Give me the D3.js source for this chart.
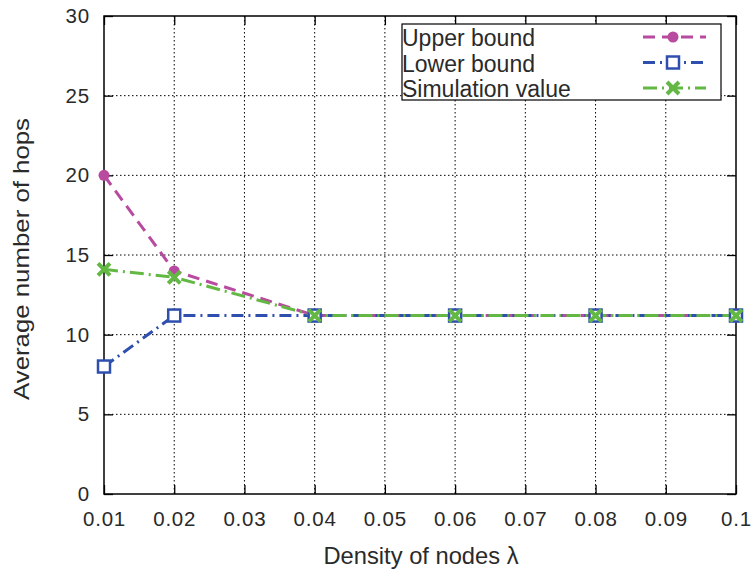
<!DOCTYPE html>
<html><head><meta charset="utf-8">
<script src="https://cdn.jsdelivr.net/npm/d3@7"></script>
<style>body{margin:0;background:#fff}text{font-family:"Liberation Sans",Arial,sans-serif;fill:#2a2a2a}</style>
</head><body>
<svg id="c" width="753" height="575"></svg>
<script>
const xVals = [0.01, 0.02, 0.04, 0.06, 0.08, 0.1];
const upperBound = [20, 14, 11.2, 11.2, 11.2, 11.2];
const lowerBound = [8, 11.2, 11.2, 11.2, 11.2, 11.2];
const simValue = [14.1, 13.6, 11.2, 11.2, 11.2, 11.2];
const xTicks = [0.01,0.02,0.03,0.04,0.05,0.06,0.07,0.08,0.09,0.1];
const xTickLabels = ["0.01","0.02","0.03","0.04","0.05","0.06","0.07","0.08","0.09","0.1"];
const yTicks = [0,5,10,15,20,25,30];
const seriesNames = ["Upper bound","Lower bound","Simulation value"];

const svg = d3.select("#c");
const L=104,R=736,T=16,B=494;
const x = d3.scaleLinear().domain([0.01,0.1]).range([L,R]);
const y = d3.scaleLinear().domain([0,30]).range([B,T]);

// grid
const g = svg.append("g");
xTicks.slice(1,-1).forEach(v=>{
  g.append("line").attr("x1",x(v)).attr("x2",x(v)).attr("y1",T).attr("y2",B)
   .attr("stroke","#000").attr("stroke-width",1).attr("stroke-dasharray","1.5,2.5");
});
yTicks.slice(1,-1).forEach(v=>{
  g.append("line").attr("x1",L).attr("x2",R).attr("y1",y(v)).attr("y2",y(v))
   .attr("stroke","#000").attr("stroke-width",1).attr("stroke-dasharray","1.5,2.5");
});

// axes
const xa = svg.append("g").attr("transform",`translate(0,${B})`)
  .call(d3.axisBottom(x).tickValues(xTicks).tickFormat((d,i)=>xTickLabels[i]).tickSizeInner(-9).tickSizeOuter(0).tickPadding(17));
const xt = svg.append("g").attr("transform",`translate(0,${T})`)
  .call(d3.axisTop(x).tickValues(xTicks).tickFormat("").tickSizeInner(-9).tickSizeOuter(0));
const ya = svg.append("g").attr("transform",`translate(${L},0)`)
  .call(d3.axisLeft(y).tickValues(yTicks).tickSizeInner(-9).tickSizeOuter(0).tickPadding(14));
const yr = svg.append("g").attr("transform",`translate(${R},0)`)
  .call(d3.axisRight(y).tickValues(yTicks).tickFormat("").tickSizeInner(-9).tickSizeOuter(0));
[xa,xt,ya,yr].forEach(a=>{a.select(".domain").remove();a.selectAll("line").attr("stroke","#000").attr("stroke-width",1.3);});
xa.selectAll("text").style("font-size","20.5px").style("letter-spacing","0.8px").attr("fill","#2a2a2a");
ya.selectAll("text").style("font-size","20.5px").style("letter-spacing","0.8px").attr("fill","#2a2a2a");
svg.append("rect").attr("x",L).attr("y",T).attr("width",R-L).attr("height",B-T)
  .attr("fill","none").attr("stroke","#000").attr("stroke-width",1.5);

// labels
svg.append("text").attr("x",421).attr("y",564).attr("text-anchor","middle").style("font-size","24px")
  .attr("textLength",195).attr("lengthAdjust","spacingAndGlyphs").text("Density of nodes λ");
svg.append("text").attr("transform",`translate(29,259) rotate(-90)`).attr("text-anchor","middle").style("font-size","22px")
  .attr("textLength",282).attr("lengthAdjust","spacingAndGlyphs").text("Average number of hops");

const colors = ["#b84aa0","#2e4fae","#63b844"];
const dashes = ["12,7","12,5,2,5","14,5,2,5"];
const data = [upperBound, lowerBound, simValue];
const line = d3.line().x((d,i)=>x(xVals[i])).y(d=>y(d));

function marker(sel, k, cx, cy){
  if(k===0){
    sel.append("circle").attr("cx",cx).attr("cy",cy).attr("r",5.5).attr("fill",colors[0]);
  } else if(k===1){
    sel.append("rect").attr("x",cx-6).attr("y",cy-6).attr("width",12).attr("height",12)
      .attr("fill","#fff").attr("stroke",colors[1]).attr("stroke-width",2.5);
  } else {
    const s=6;
    sel.append("path").attr("d",`M${cx-s},${cy-s}L${cx+s},${cy+s}M${cx-s},${cy+s}L${cx+s},${cy-s}`)
      .attr("stroke",colors[2]).attr("stroke-width",4);
  }
}

data.forEach((d,k)=>{
  svg.append("path").datum(d).attr("d",line).attr("fill","none")
    .attr("stroke",colors[k]).attr("stroke-width",3).attr("stroke-dasharray",dashes[k]);
});
data.forEach((d,k)=>{
  const mg = svg.append("g");
  d.forEach((v,i)=>marker(mg,k,x(xVals[i]),y(v)));
});

// legend
const lg = svg.append("g");
lg.append("rect").attr("x",402).attr("y",24).attr("width",319).attr("height",76).attr("fill","#fff").attr("stroke","#000").attr("stroke-width",1.2);
seriesNames.forEach((n,k)=>{
  const yy = 37 + k*25.5;
  lg.append("text").attr("x",402).attr("y",yy+9).style("font-size","23px").text(n);
  lg.append("line").attr("x1",643).attr("x2",706).attr("y1",yy).attr("y2",yy)
    .attr("stroke",colors[k]).attr("stroke-width",3).attr("stroke-dasharray",dashes[k]);
  marker(lg,k,673,yy);
});
</script>
</body></html>
